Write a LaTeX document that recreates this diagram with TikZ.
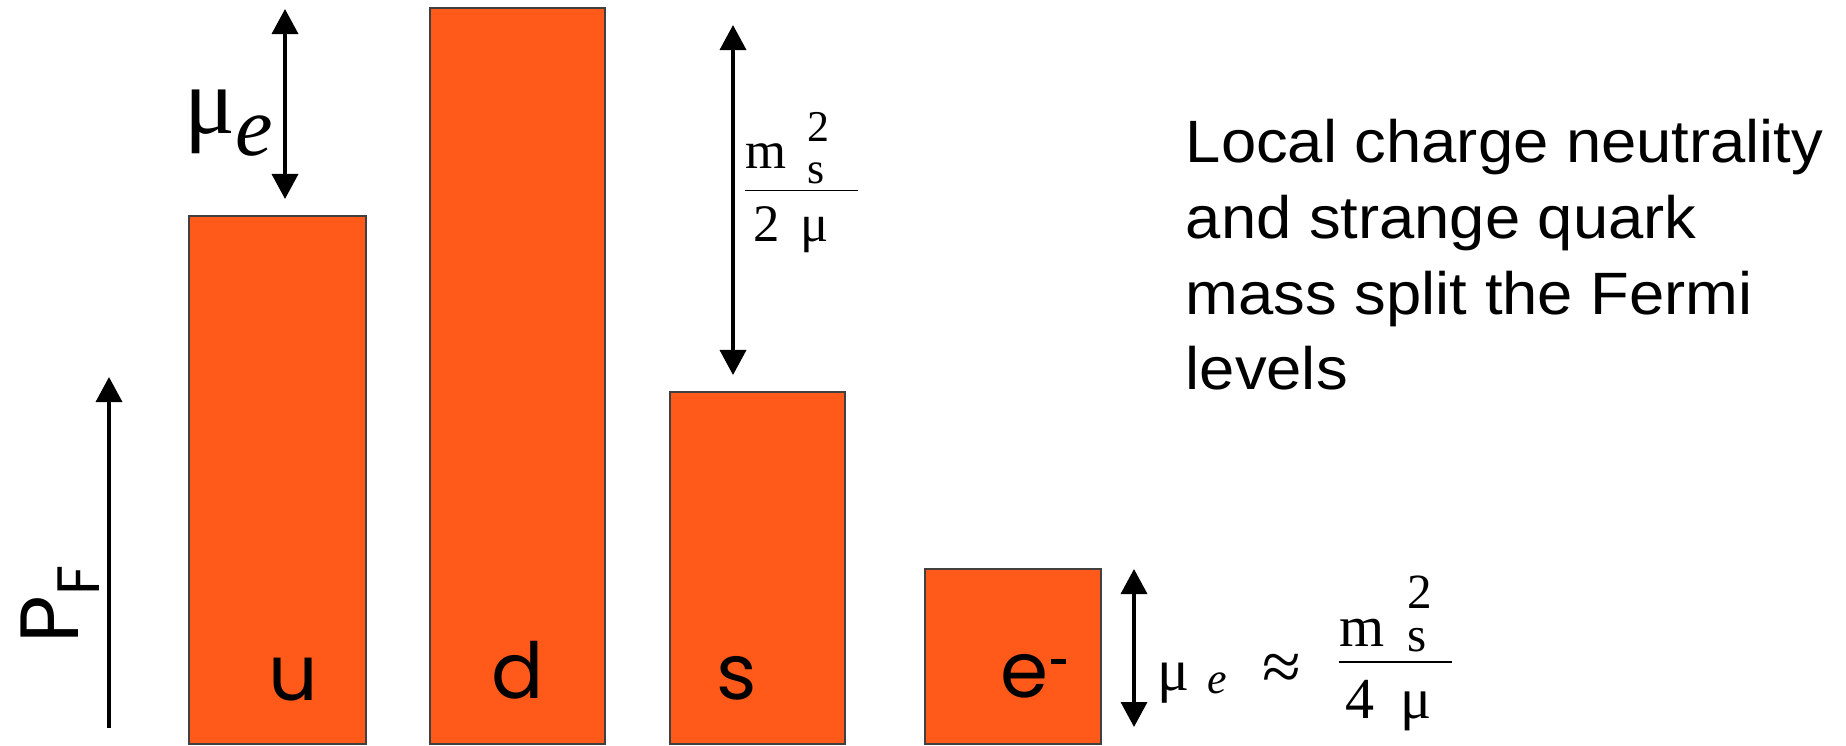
\documentclass[tikz,border=0pt]{standalone}
\usepackage{fontspec}
\setmainfont{Liberation Serif}
\newfontfamily\flavourfont{Poppins}
\newfontfamily\notefont[FakeStretch=1.06]{Liberation Sans}
\usetikzlibrary{arrows.meta}
\definecolor{barorange}{HTML}{FF5A1A}
\tikzset{every picture/.style={line width=1pt}}
\tikzset{
  bar/.style={fill=barorange, draw=black!75, line width=0.5pt},
  span/.style={{Triangle[width=0.26cm,length=0.25cm]}-{Triangle[width=0.26cm,length=0.25cm]}},
  axis/.style={-{Triangle[width=0.26cm,length=0.25cm]}},
  flavour/.style={font=\flavourfont\fontsize{22}{22}\selectfont, anchor=base, inner sep=0pt},
}
% m_s^2 : #1 script size, #2 raise of the 2, #3 drop of the s
\newcommand{\msq}[3]{m\hspace{0.4em}{\fontsize{#1}{#1}\selectfont\rlap{\raisebox{#2}{2}}\raisebox{-#3}{s}}}

\begin{document}
\begin{tikzpicture}[x=0.01cm, y=-0.01cm]
  \useasboundingbox (0,0) rectangle (1846,745);
  % Fermi seas
  \draw[bar] (189,216) rectangle (366,744);
  \draw[bar] (430,8) rectangle (605,744);
  \draw[bar] (670,392) rectangle (845,744);
  \draw[bar] (925,569) rectangle (1101,744);
  \node[flavour] (u) at (293,700) {u};
  \node[flavour] (d) at (518,698) {d};
  \node[flavour] (s) at (737,699) {s};
  \node[flavour, anchor=base west] (e) at (999,697) {e\hspace{0.5pt}\rule[9.5pt]{4.3pt}{1.3pt}};
  % momentum axis
  \coordinate (pf low) at (109,728);
  \coordinate (pf high) at (109,377);
  \draw[axis] (pf low) -- (pf high);
  \node[rotate=90, anchor=base west, inner sep=0pt, font=\flavourfont\fontsize{23.5}{23.5}\selectfont] (pf) at (78,645) {P\raisebox{-6pt}{\fontsize{17}{17}\selectfont F}};
  % splittings
  \coordinate (mue top) at (285,9);
  \coordinate (mue bot) at (285,199);
  \draw[span] (mue top) -- (mue bot);
  \node[anchor=base west, inner sep=0pt, font=\fontsize{27}{27}\selectfont] (mue) at (183,133) {μ\raisebox{-6.3pt}{\fontsize{24}{24}\selectfont\itshape e}};
  \coordinate (ms top) at (733,25);
  \coordinate (ms bot) at (733,375);
  \draw[span] (ms top) -- (ms bot);
  \node[anchor=base, inner sep=0pt, font=\fontsize{15}{15}\selectfont] (ms) at (801.5,203)
    {$\displaystyle\frac{\makebox[32pt][l]{\msq{12.5}{7.8pt}{4.3pt}}}{\raisebox{-1pt}{\makebox[32pt][l]{\hspace{0.15em}2\hspace{0.4em}μ}}}$};
  \coordinate (el top) at (1134,569);
  \coordinate (el bot) at (1134,727);
  \draw[span] (el top) -- (el bot);
  \node[anchor=base west, inner sep=0pt, font=\fontsize{17}{17}\selectfont] (mue2) at (1156,690)
    {μ\hspace{5pt}\raisebox{-1pt}{\fontsize{12.5}{12.5}\selectfont\itshape e}\hspace{10pt}{\fontsize{20}{20}\selectfont ≈}};
  \node[anchor=base, inner sep=0pt, font=\fontsize{16.5}{16.5}\selectfont] (el) at (1395.5,677)
    {$\displaystyle\frac{\raisebox{-3pt}{\makebox[32pt][l]{\msq{14}{10.8pt}{1.4pt}}}}{\makebox[32pt][l]{\hspace{0.1em}4\hspace{0.45em}μ}}$};
  % note
  \node[anchor=north west, inner sep=0pt, align=left, font=\notefont\fontsize{17}{21.6}\selectfont] (note) at (1184,117)
    {Local charge neutrality\\and strange quark\\mass split the Fermi\\levels};
\end{tikzpicture}
\end{document}
